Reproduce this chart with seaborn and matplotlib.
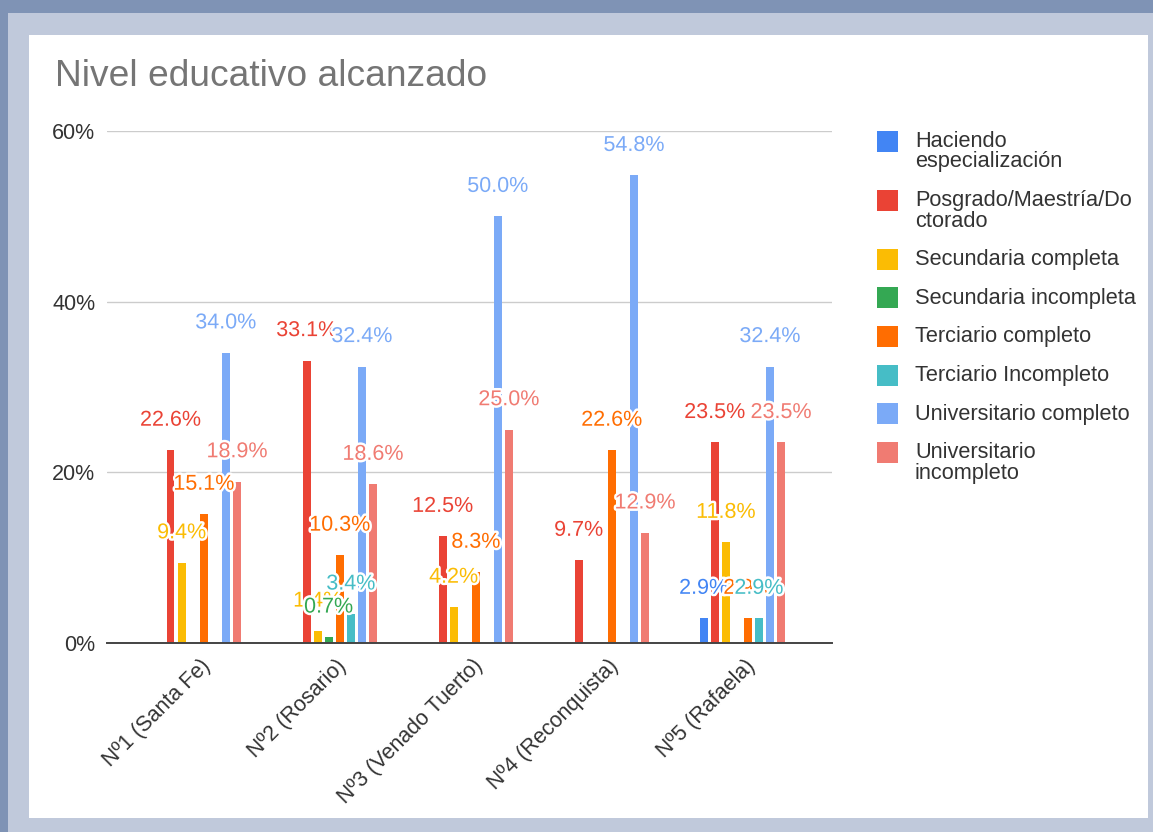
import seaborn as sns
import matplotlib.pyplot as plt
import matplotlib.patheffects as pe
from matplotlib.patches import Rectangle
from matplotlib.transforms import ScaledTranslation
import pandas as pd

# Datos del gráfico
sedes = ['Nº1 (Santa Fe)', 'Nº2 (Rosario)', 'Nº3 (Venado Tuerto)',
         'Nº4 (Reconquista)', 'Nº5 (Rafaela)']
niveles = ['Haciendo\nespecialización', 'Posgrado/Maestría/Do\nctorado',
           'Secundaria completa', 'Secundaria incompleta', 'Terciario completo',
           'Terciario Incompleto', 'Universitario completo',
           'Universitario\nincompleto']
haciendo = [0, 0, 0, 0, 2.9]
posgrado = [22.6, 33.1, 12.5, 9.7, 23.5]
sec_completa = [9.4, 1.4, 4.2, 0, 11.8]
sec_incompleta = [0, 0.7, 0, 0, 0]
terc_completo = [15.1, 10.3, 8.3, 22.6, 2.9]
terc_incompleto = [0, 3.4, 0, 0, 2.9]
univ_completo = [34.0, 32.4, 50.0, 54.8, 32.4]
univ_incompleto = [18.9, 18.6, 25.0, 12.9, 23.5]
colores = ['#4285F4', '#EA4335', '#FBBC04', '#34A853',
           '#FF6D01', '#46BDC6', '#7BAAF7', '#F07B72']

series = [haciendo, posgrado, sec_completa, sec_incompleta,
          terc_completo, terc_incompleto, univ_completo, univ_incompleto]
filas = []
for nivel, valores in zip(niveles, series):
    for sede, v in zip(sedes, valores):
        filas.append({'sede': sede, 'nivel': nivel, 'valor': v})
df = pd.DataFrame(filas)

sns.set_theme(style='white')
plt.rcParams['font.family'] = ['Liberation Sans', 'DejaVu Sans']

W, H = 1153, 832
FS = 15.5


def fx(px):
    return px / W


def fy(py):
    return 1 - py / H


fig = plt.figure(figsize=(W / 100, H / 100), dpi=100)
fig.patch.set_facecolor('#7f93b5')
# marco claro y tarjeta blanca
fig.add_artist(Rectangle((fx(8), 0), 1, fy(13), transform=fig.transFigure,
                         facecolor='#c0c9db', edgecolor='none', zorder=-2))
fig.add_artist(Rectangle((fx(29), fy(818)), fx(1148 - 29), (818 - 35) / H,
                         transform=fig.transFigure, facecolor='white',
                         edgecolor='none', zorder=-1))

ax = fig.add_axes([fx(107), fy(643), fx(832 - 107), (643 - 131) / H])
ax.patch.set_alpha(0)

sns.barplot(data=df, x='sede', y='valor', hue='nivel', hue_order=niveles,
            order=sedes, palette=colores, width=0.65, gap=0.28,
            saturation=1, linewidth=0, ax=ax, legend=False)

for cont, valores, c in zip(ax.containers, series, colores):
    etiquetas = [f'{v:.1f}%' if v > 0 else '' for v in valores]
    ax.bar_label(cont, labels=etiquetas, padding=14, color=c, fontsize=FS,
                 path_effects=[pe.withStroke(linewidth=3.5, foreground='white')])

ax.set_xlim(-0.67, 4.66)
ax.set_ylim(0, 60)
ax.set_yticks([0, 20, 40, 60])
ax.set_yticklabels(['0%', '20%', '40%', '60%'], fontsize=FS, color='#333333')
ax.yaxis.grid(True, color='#cccccc', linewidth=1)
ax.set_axisbelow(True)
for s in ['top', 'right', 'left']:
    ax.spines[s].set_visible(False)
ax.spines['bottom'].set_color('#444444')
ax.spines['bottom'].set_linewidth(1.4)
ax.tick_params(axis='y', length=0, pad=8.5)
ax.tick_params(axis='x', length=0, pad=9)
ax.set_xlabel('')
ax.set_ylabel('')
desplaza = ScaledTranslation(2 / 100, 0, fig.dpi_scale_trans)
for t in ax.get_xticklabels():
    t.set_rotation(45)
    t.set_ha('right')
    t.set_rotation_mode('anchor')
    t.set_fontsize(FS)
    t.set_color('#333333')
    t.set_transform(t.get_transform() + desplaza)

# leyenda a la derecha
y_centro = 141
for nivel, c in zip(niveles, colores):
    lineas = nivel.split('\n')
    fig.add_artist(Rectangle((fx(877), fy(y_centro + 10.5)), fx(21), 21 / H,
                             transform=fig.transFigure, facecolor=c,
                             edgecolor='none'))
    for i, linea in enumerate(lineas):
        fig.text(fx(915), fy(y_centro + 20.5 * i + 6), linea, fontsize=15.7,
                 color='#333333', ha='left', va='baseline')
    y_centro += 38.6 + 20.5 * (len(lineas) - 1)

fig.text(fx(55), fy(86), 'Nivel educativo alcanzado', fontsize=26.7,
         color='#757575', va='baseline', ha='left')

fig.savefig('out.png', dpi=100, facecolor=fig.get_facecolor())
